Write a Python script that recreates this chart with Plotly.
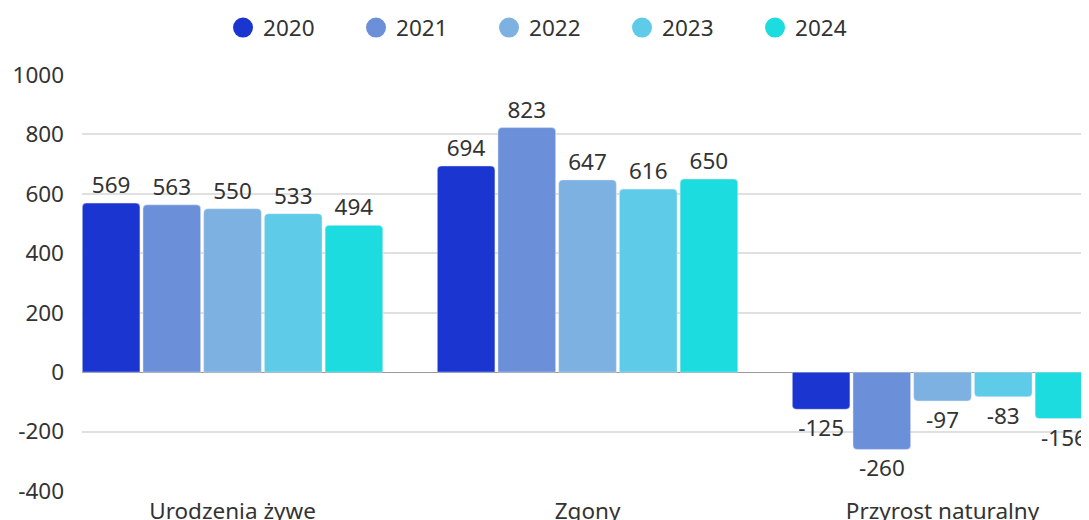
import plotly.graph_objects as go

categories = ["Urodzenia żywe", "Zgony", "Przyrost naturalny"]
years = ["2020", "2021", "2022", "2023", "2024"]
v2020 = [569, 694, -125]
v2021 = [563, 823, -260]
v2022 = [550, 647, -97]
v2023 = [533, 616, -83]
v2024 = [494, 650, -156]
series = [v2020, v2021, v2022, v2023, v2024]
colors = ["#1b36d0", "#6b8fd8", "#7cb1e2", "#5ecbe8", "#1cdce0"]
y_ticks = [-400, -200, 0, 200, 400, 600, 800, 1000]
y_tick_labels = ["-400", "-200", "0", "200", "400", "600", "800", "1000"]

FONT = "Noto Sans"
TXT = "#333333"
FS = 22.5

fig = go.Figure()
for name, vals, col in zip(years, series, colors):
    fig.add_trace(go.Bar(
        x=categories, y=vals, name=name, marker=dict(color=col, cornerradius=4),
        text=[str(v) for v in vals], textposition="outside", constraintext="none",
        textfont=dict(family=FONT, size=FS, color=TXT), cliponaxis=False,
        showlegend=False,
    ))
for name, col in zip(years, colors):
    fig.add_trace(go.Scatter(
        x=[None], y=[None], mode="markers", name=name,
        marker=dict(color=col, size=22, symbol="circle", line=dict(color=col, width=4)),
        showlegend=True,
    ))

fig.update_layout(
    width=1081, height=512,
    margin=dict(l=74, r=0, t=67, b=29, autoexpand=False),
    paper_bgcolor="white", plot_bgcolor="white",
    font=dict(family=FONT, size=FS, color=TXT),
    barmode="group", bargap=0.145, bargroupgap=0.05,
    legend=dict(orientation="h", xref="container", x=0.5065, xanchor="center",
                yref="container", y=0.961, yanchor="middle",
                font=dict(family=FONT, size=FS, color=TXT),
                entrywidth=88, entrywidthmode="pixels", itemsizing="trace"),
    xaxis=dict(range=[-0.424, 2.4126], showgrid=False, showline=False, ticks="",
               automargin=False, ticklabelstandoff=4,
               tickfont=dict(family=FONT, size=FS, color=TXT)),
    yaxis=dict(range=[-400, 1000], tickvals=y_ticks, ticktext=y_tick_labels,
               showgrid=True, gridcolor="#e0e0e0", automargin=False,
               gridwidth=1.5, zeroline=True, zerolinecolor="#9a9a9a", zerolinewidth=1,
               tickfont=dict(family=FONT, size=FS, color=TXT), ticklabelstandoff=17),
)

fig.write_html("out.html")
